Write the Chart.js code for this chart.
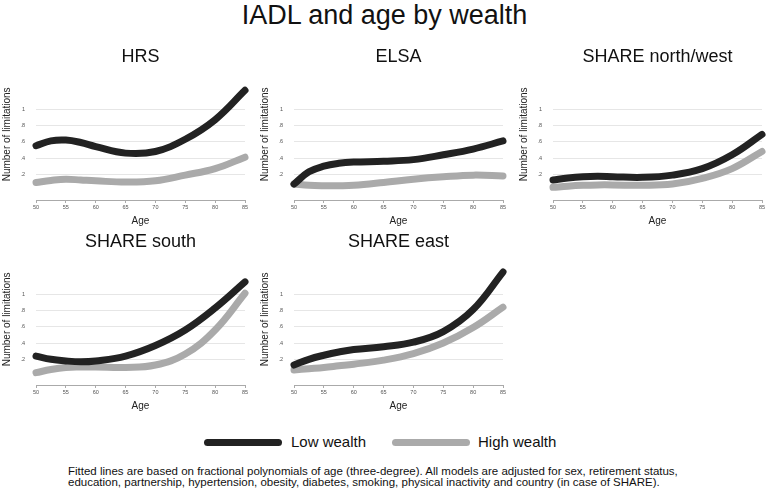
<!DOCTYPE html>
<html>
<head>
<meta charset="utf-8">
<title>IADL and age by wealth</title>
<script src="https://cdn.jsdelivr.net/npm/chart.js@4.4.0/dist/chart.umd.min.js"></script>
<style>
  body { margin: 0; background: #fff; font-family: "Liberation Sans", Arial, sans-serif; }
  #wrap { position: relative; width: 769px; height: 494px; overflow: hidden; background: #fff; }
  #wrap canvas { position: absolute; }
  .main-title { position: absolute; left: 0; width: 769px; top: 0; text-align: center;
                font-size: 27px; line-height: 31px; color: #111; }
  .swatch { position: absolute; height: 7px; width: 78px; border-radius: 4px; top: 439px; }
  .legtext { position: absolute; top: 433px; font-size: 15px; line-height: 18px; color: #111; }
  .note { position: absolute; left: 68px; top: 466px; font-size: 11.5px; line-height: 11px; color: #111; white-space: nowrap; }
</style>
</head>
<body>
<div id="wrap">
  <div class="main-title">IADL and age by wealth</div>
  <canvas id="p0" width="258" height="190" style="left:0px;top:40px"></canvas>
  <canvas id="p1" width="258" height="190" style="left:258px;top:40px"></canvas>
  <canvas id="p2" width="258" height="190" style="left:517px;top:40px"></canvas>
  <canvas id="p3" width="258" height="190" style="left:0px;top:225px"></canvas>
  <canvas id="p4" width="258" height="190" style="left:258px;top:225px"></canvas>

  <div class="swatch" style="left:204px;background:#222"></div>
  <div class="legtext" style="left:291px">Low wealth</div>
  <div class="swatch" style="left:392px;background:#aaa"></div>
  <div class="legtext" style="left:478px">High wealth</div>

  <div class="note">Fitted lines are based on fractional polynomials of age (three-degree). All models are adjusted for sex, retirement status,<br>education, partnership, hypertension, obesity, diabetes, smoking, physical inactivity and country (in case of SHARE).</div>
</div>

<script>
// values
const ages = [50, 52.5, 55, 57.5, 60, 65, 70, 75, 80, 85];
const yTicks = [0.2, 0.4, 0.6, 0.8, 1];

const hrsLow   = [0.55, 0.61, 0.62, 0.59, 0.54, 0.46, 0.48, 0.63, 0.87, 1.23];
const hrsHigh  = [0.10, 0.125, 0.14, 0.13, 0.12, 0.105, 0.12, 0.19, 0.27, 0.41];
const elsaLow  = [0.08, 0.23, 0.30, 0.335, 0.35, 0.36, 0.38, 0.44, 0.51, 0.61];
const elsaHigh = [0.08, 0.065, 0.06, 0.06, 0.065, 0.10, 0.14, 0.17, 0.19, 0.18];
const nwLow    = [0.13, 0.155, 0.17, 0.175, 0.17, 0.163, 0.19, 0.27, 0.44, 0.69];
const nwHigh   = [0.04, 0.055, 0.065, 0.07, 0.07, 0.065, 0.08, 0.15, 0.27, 0.48];
const southLow  = [0.24, 0.20, 0.18, 0.17, 0.18, 0.24, 0.37, 0.56, 0.83, 1.15];
const southHigh = [0.036, 0.075, 0.10, 0.105, 0.105, 0.10, 0.13, 0.265, 0.56, 1.01];
const eastLow  = [0.13, 0.20, 0.25, 0.29, 0.32, 0.355, 0.41, 0.54, 0.81, 1.27];
const eastHigh = [0.07, 0.085, 0.10, 0.12, 0.14, 0.19, 0.27, 0.40, 0.59, 0.84];

const panels = [
  {id: "p0", title: "HRS", low: hrsLow, high: hrsHigh},
  {id: "p1", title: "ELSA", low: elsaLow, high: elsaHigh},
  {id: "p2", title: "SHARE north/west", low: nwLow, high: nwHigh},
  {id: "p3", title: "SHARE south", low: southLow, high: southHigh},
  {id: "p4", title: "SHARE east", low: eastLow, high: eastHigh},
];

const FONT = '"Liberation Sans", Arial, sans-serif';

// y axis title drawn by hand so it can sit a bit above the middle like the original
const yTitlePlugin = {
  id: "yTitle",
  afterDraw(chart, args, opts) {
    const {ctx, chartArea} = chart;
    ctx.save();
    ctx.font = "10px " + FONT;
    ctx.fillStyle = "#222";
    ctx.textAlign = "center";
    ctx.textBaseline = "middle";
    ctx.translate(opts.x, (chartArea.top + chartArea.bottom) / 2 + opts.shift);
    ctx.rotate(-Math.PI / 2);
    ctx.fillText(opts.text, 0, 0);
    ctx.restore();
  }
};

function toPoints(vals) {
  return ages.map((a, i) => ({x: a, y: vals[i]}));
}

panels.forEach((p) => {
  new Chart(document.getElementById(p.id), {
    type: "line",
    data: {
      datasets: [
        {label: "Low wealth", data: toPoints(p.low), borderColor: "#222"},
        {label: "High wealth", data: toPoints(p.high), borderColor: "#aaa"},
      ],
    },
    options: {
      responsive: false,
      animation: false,
      events: [],
      clip: false,
      layout: {padding: {left: 0, right: 13, top: 0, bottom: 0}},
      elements: {
        line: {borderWidth: 7, tension: 0.4, borderCapStyle: "round", borderJoinStyle: "round", fill: false},
        point: {radius: 0},
      },
      plugins: {
        legend: {display: false},
        tooltip: {enabled: false},
        title: {
          display: true,
          text: p.title,
          fullSize: false,
          color: "#111",
          font: {family: FONT, size: 18, weight: "normal"},
          padding: {top: 6.4, bottom: 20.7},
        },
        yTitle: {text: "Number of limitations", x: 7.3, shift: -10},
      },
      scales: {
        x: {
          type: "linear",
          min: 50,
          max: 85,
          afterFit: (s) => { s.height = 30; },
          ticks: {stepSize: 5, color: "#555", font: {family: FONT, size: 5.5}, padding: 1, maxRotation: 0},
          grid: {drawOnChartArea: false, drawTicks: true, tickLength: 3, color: "#aaa"},
          border: {display: true, color: "#aaa", width: 1},
          title: {display: true, text: "Age", color: "#222", font: {family: FONT, size: 10}, padding: {top: 0, bottom: 3}},
        },
        y: {
          min: -0.115,
          max: 1.25,
          afterFit: (s) => { s.width = 36; },
          afterBuildTicks: (s) => { s.ticks = yTicks.map((v) => ({value: v})); },
          ticks: {
            color: "#555",
            font: {family: FONT, size: 5.5},
            padding: 11,
            callback: (v) => (v === 1 ? "1" : String(Math.round(v * 10) / 10).replace(/^0/, "")),
          },
          grid: {color: "#e6e6e6", drawTicks: false, lineWidth: 1},
          border: {display: false},
        },
      },
    },
    plugins: [yTitlePlugin],
  });
});
</script>
</body>
</html>
